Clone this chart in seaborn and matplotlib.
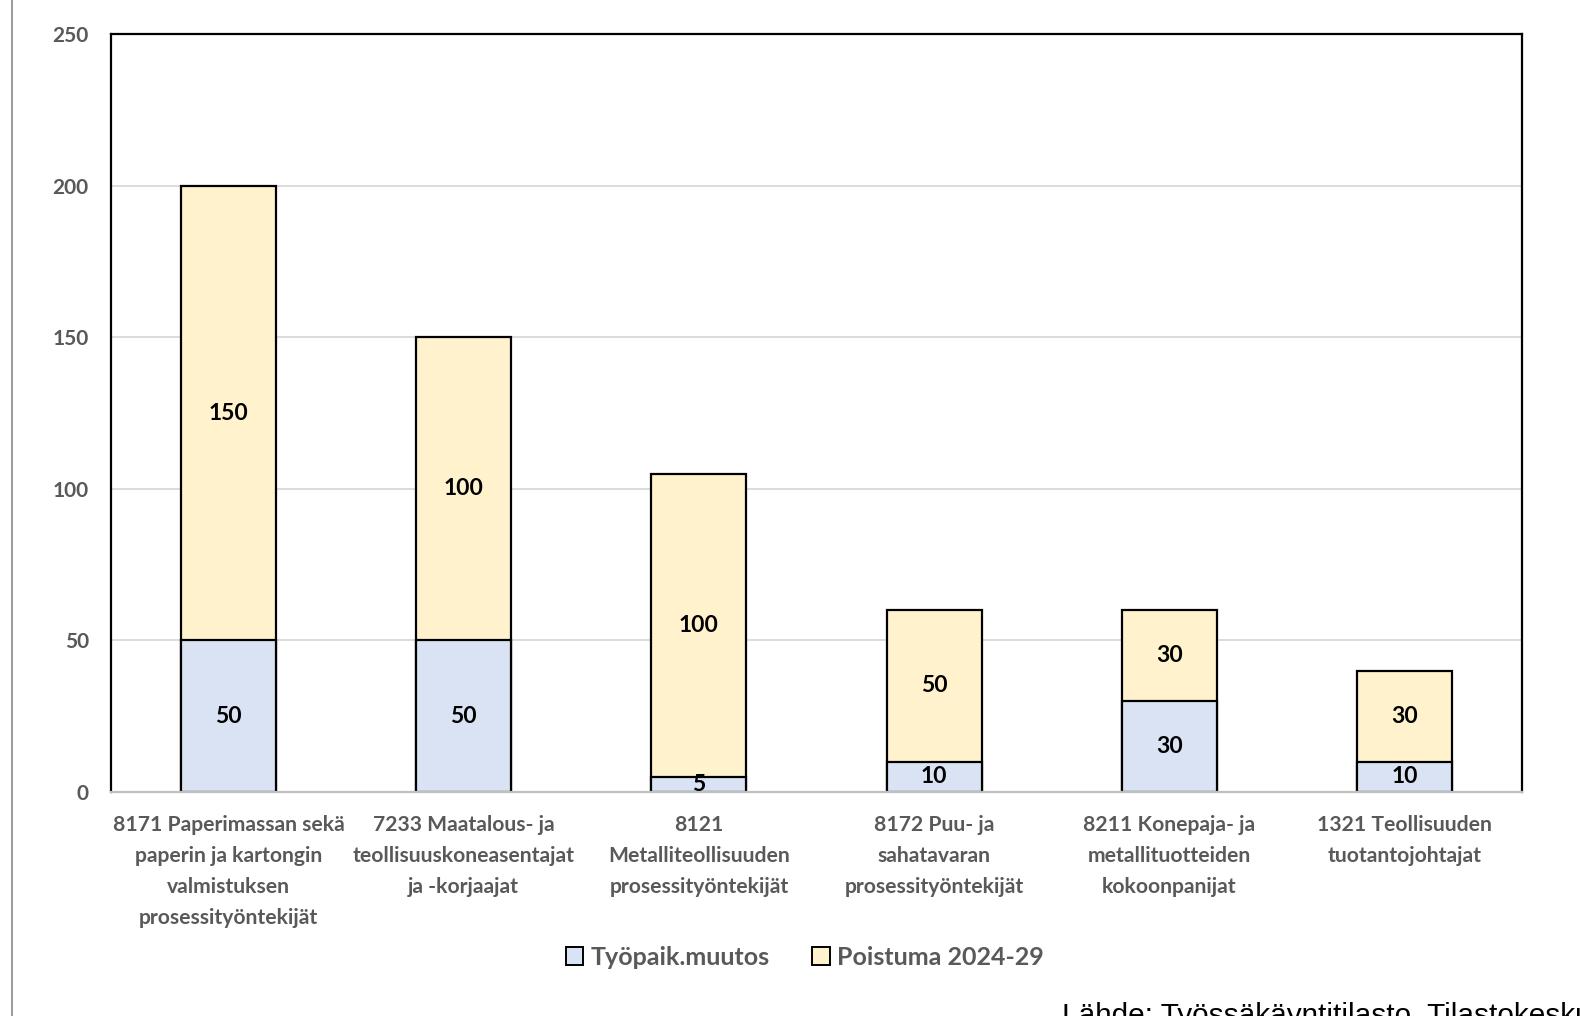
"""Stacked bar chart: job change and retirement outflow by occupation."""
import matplotlib

matplotlib.use("Agg")

import matplotlib.pyplot as plt  # noqa: E402
import matplotlib.transforms as mtransforms  # noqa: E402
import pandas as pd  # noqa: E402
import seaborn as sns  # noqa: E402
from matplotlib.lines import Line2D  # noqa: E402
from matplotlib.patches import Patch  # noqa: E402

occupations = [
    "8171 Paperimassan sekä\npaperin ja kartongin\nvalmistuksen\nprosessityöntekijät",
    "7233 Maatalous- ja\nteollisuuskoneasentajat\nja -korjaajat",
    "8121\nMetalliteollisuuden\nprosessityöntekijät",
    "8172 Puu- ja\nsahatavaran\nprosessityöntekijät",
    "8211 Konepaja- ja\nmetallituotteiden\nkokoonpanijat",
    "1321 Teollisuuden\ntuotantojohtajat",
]
tyopaik_muutos = [50, 50, 5, 10, 30, 10]
poistuma = [150, 100, 100, 50, 30, 30]
y_ticks = [0, 50, 100, 150, 200, 250]

series_names = ["Työpaik.muutos", "Poistuma 2024-29"]
colors = ["#DAE3F3", "#FFF2CC"]
source_text = "Lähde: Työssäkäyntitilasto, Tilastokeskus"

df = pd.DataFrame(
    {"occupation": occupations, "muutos": tyopaik_muutos, "poistuma": poistuma}
)
df["total"] = df["muutos"] + df["poistuma"]

sns.set_theme(style="white")
plt.rcParams["font.family"] = ["Lato", "DejaVu Sans"]

fig = plt.figure(figsize=(15.81, 10.16), dpi=100)
ax = fig.add_axes([0.0702, 0.2205, 0.8925, 0.746])

# Stacked look: full total in yellow, lower segment drawn over it in blue.
sns.barplot(data=df, x="occupation", y="total", color=colors[1],
            edgecolor="black", linewidth=1.6, width=0.404, saturation=1, ax=ax)
sns.barplot(data=df, x="occupation", y="muutos", color=colors[0],
            edgecolor="black", linewidth=1.6, width=0.404, saturation=1, ax=ax)

ax.set_xlim(-0.5, len(occupations) - 0.5)
ax.set_ylim(0, 250)
ax.set_yticks(y_ticks)
ax.yaxis.grid(True, color="#d9d9d9", lw=1.3)
ax.set_axisbelow(True)
ax.set_xlabel("")
ax.set_ylabel("")

for side in ["top", "left", "right"]:
    ax.spines[side].set_color("black")
    ax.spines[side].set_linewidth(1.6)
ax.spines["bottom"].set_color("#bfbfbf")
ax.spines["bottom"].set_linewidth(1.6)

ax.tick_params(axis="y", length=0, pad=16, labelsize=15, labelcolor="#595959")
for lbl in ax.get_yticklabels():
    lbl.set_fontweight("bold")

# Category labels drawn as text so the line spacing can match the original.
ax.tick_params(axis="x", length=0, labelbottom=False)
trans = mtransforms.blended_transform_factory(ax.transData, ax.transAxes)
for i, name in enumerate(occupations):
    ax.text(i, -0.031, name, transform=trans, ha="center", va="top",
            fontsize=15.2, fontweight="bold", color="#595959", linespacing=1.68)

# Segment value labels.
for i, (m, p) in enumerate(zip(tyopaik_muutos, poistuma)):
    ax.text(i, m / 2, str(m), ha="center", va="center",
            fontsize=16.5, fontweight="bold", color="black")
    ax.text(i, m + p / 2, str(p), ha="center", va="center",
            fontsize=16.5, fontweight="bold", color="black")

handles = [Patch(facecolor=c, edgecolor="black", linewidth=1.4) for c in colors]
fig.legend(handles, series_names, loc="center", bbox_to_anchor=(0.509, 0.058),
           ncol=2, frameon=False, handlelength=0.7, handleheight=0.7,
           handletextpad=0.3, columnspacing=1.7,
           prop={"family": "Lato", "weight": "bold", "size": 18})
for t in fig.legends[0].get_texts():
    t.set_color("#595959")

# The source note runs past the figure edge, as in the original.
fig.text(0.6715, -0.008, source_text, ha="left", va="baseline",
         fontsize=21.4, family="Liberation Sans", color="black")

fig.add_artist(Line2D([0.0076, 0.0076], [0, 1], color="#9a9a9a", lw=1.4))

fig.savefig("out.png", dpi=100)
plt.close(fig)
